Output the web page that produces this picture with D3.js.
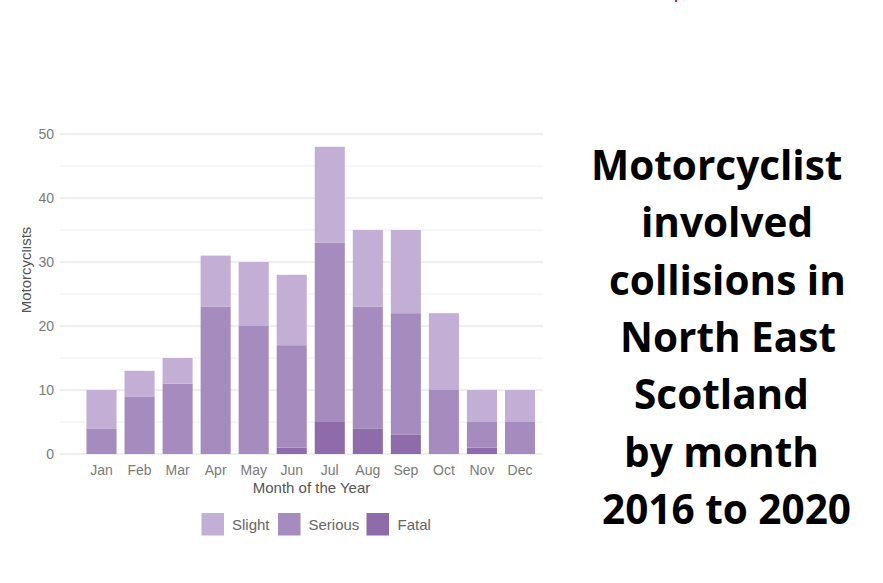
<!DOCTYPE html>
<html><head><meta charset="utf-8">
<script src="https://cdn.jsdelivr.net/npm/d3@7/dist/d3.min.js"></script>
<style>
body{margin:0;background:#fff}svg{display:block}
.lab{font-family:"Liberation Sans",Arial,sans-serif}
.ttl{font-family:"Open Sans","Noto Sans",sans-serif;font-weight:700}
</style>
</head><body>
<svg id="c" width="883" height="583"></svg>
<script>
const months = ["Jan","Feb","Mar","Apr","May","Jun","Jul","Aug","Sep","Oct","Nov","Dec"];
const fatal   = [0,0,0,0,0,1,5,4,3,0,1,0];
const serious = [4,9,11,23,20,16,28,19,19,10,4,5];
const slight  = [6,4,4,8,10,11,15,12,13,12,5,5];
const seriesNames = ["Fatal","Serious","Slight"];
const legendOrder = ["Slight","Serious","Fatal"];
const yTicks = [0,10,20,30,40,50];
const titleLines = ["Motorcyclist ","involved","collisions in","North East","Scotland ","by month","2016 to 2020"];

const colors = {Slight:"#c3aed5", Serious:"#a68bbe", Fatal:"#8e6ba9"};
const svg = d3.select("#c");

const x = d3.scaleBand().domain(months).range([78.5,543]).padding(0.21);
const y = d3.scaleLinear().domain([0,50]).range([454,134]);

// gridlines
const g = svg.append("g");
g.selectAll("line.minor").data(d3.range(5,50,10)).join("line")
  .attr("x1",60).attr("x2",543).attr("y1",d=>y(d)).attr("y2",d=>y(d))
  .attr("stroke","#eeeeee").attr("stroke-width",1);
g.selectAll("line.major").data(yTicks).join("line")
  .attr("x1",60).attr("x2",543).attr("y1",d=>y(d)).attr("y2",d=>y(d))
  .attr("stroke","#e0e0e0").attr("stroke-width",1.2);

// stacked bars
const table = months.map((m,i)=>({month:m, Fatal:fatal[i], Serious:serious[i], Slight:slight[i]}));
const stacked = d3.stack().keys(seriesNames)(table);
svg.append("g").selectAll("g").data(stacked).join("g")
  .attr("fill", d=>colors[d.key])
  .selectAll("rect").data(d=>d).join("rect")
  .attr("x", d=>x(d.data.month)).attr("width", x.bandwidth())
  .attr("y", d=>y(d[1])).attr("height", d=>y(d[0])-y(d[1]));

// y axis labels
const yAxis = d3.axisLeft(y).tickValues(yTicks).tickSize(0).tickPadding(6);
const ya = svg.append("g").attr("transform","translate(60,0)").call(yAxis);
ya.select(".domain").remove();
ya.attr("font-family",null).attr("font-size",null);
ya.selectAll("text").attr("class","lab").style("font-size","14px").attr("fill","#7a7a7a");

// x axis labels
const xAxis = d3.axisBottom(x).tickSize(0).tickPadding(11);
const xa = svg.append("g").attr("transform","translate(0,454)").call(xAxis);
xa.select(".domain").remove();
xa.attr("font-family",null).attr("font-size",null);
xa.selectAll("text").attr("class","lab").style("font-size","14px").attr("fill","#7a7a7a");

// axis titles
svg.append("text").attr("class","lab").attr("x",311.5).attr("y",493).attr("text-anchor","middle")
  .style("font-size","15px").attr("fill","#555").text("Month of the Year");

svg.append("clipPath").attr("id","yclip").append("rect")
  .attr("x",22).attr("y",0).attr("width",100).attr("height",583);
svg.append("g").attr("clip-path","url(#yclip)")
  .append("text").attr("class","lab")
  .attr("transform","translate(30.5,270) rotate(-90)").attr("text-anchor","middle")
  .style("font-size","15px").attr("fill","#555").text("Motorcyclists");

// legend
const legX = [201.5,278,366.5];
const leg = svg.append("g").selectAll("g").data(legendOrder).join("g")
  .attr("transform",(d,i)=>`translate(${legX[i]},513)`);
leg.append("rect").attr("width",22.5).attr("height",22.5).attr("fill",d=>colors[d]);
leg.append("text").attr("class","lab").attr("x",d=>d==="Fatal"?31:30.5).attr("y",17)
  .style("font-size","15px").attr("fill","#666").text(d=>d);

// title
const titleX = [591,641,609,620,634,624,602];
svg.append("g").selectAll("text").data(titleLines).join("text")
  .attr("class","ttl")
  .attr("x",(d,i)=>titleX[i]).attr("y",(d,i)=>180+i*57.3)
  .style("white-space","pre").style("font-size","40.5px")
  .attr("fill","#000").text(d=>d);

// stray red mark
svg.append("rect").attr("x",675).attr("y",0).attr("width",2).attr("height",2).attr("fill","#e0202a");
</script>
</body></html>
